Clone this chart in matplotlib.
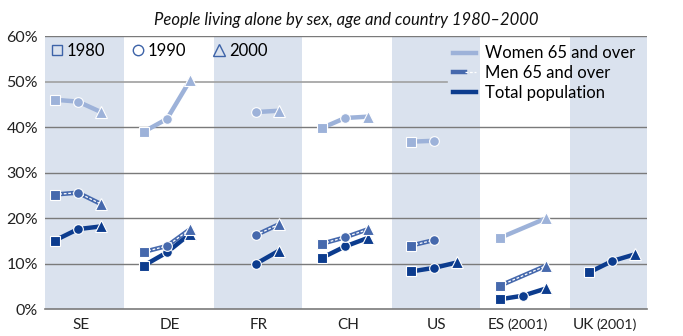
import numpy as np
import matplotlib
matplotlib.use('Agg')
import matplotlib.pyplot as plt
from matplotlib.lines import Line2D
from matplotlib.legend_handler import HandlerTuple

plt.rcParams['font.family'] = ['Lato', 'DejaVu Sans']

nan = np.nan
COUNTRIES = ['SE', 'DE', 'FR', 'CH', 'US', 'ES (2001)', 'UK (2001)']
YEARS = ['1980', '1990', '2000']

women_1980 = [46.0, 39.0, nan, 39.8, 36.8, 15.7, nan]
women_1990 = [45.6, 41.8, 43.3, 42.0, 37.0, nan, nan]
women_2000 = [43.3, 50.3, 43.6, 42.3, nan, 20.0, nan]

men_1980 = [25.2, 12.6, nan, 14.4, 14.0, 5.2, nan]
men_1990 = [25.6, 13.9, 16.3, 15.8, 15.2, nan, nan]
men_2000 = [23.1, 17.6, 18.7, 17.6, nan, 9.6, nan]

total_1980 = [15.1, 9.6, nan, 11.3, 8.3, 2.2, 8.1]
total_1990 = [17.6, 12.5, 10.0, 13.8, 9.1, 3.0, 10.6]
total_2000 = [18.2, 16.6, 12.9, 15.7, 10.3, 4.6, 12.1]

WOMEN_C = '#9db2d9'
MEN_C = '#4669ad'
TOTAL_C = '#0c3c8e'
BAND_C = '#dae2ee'
GRID_C = '#7a7a7a'
TEXT_C = '#222222'
MARKERS = ['s', 'o', '^']
MSIZE = [6.5, 7.0, 8.0]
OFFSETS = [-0.26, 0.0, 0.26]

fig = plt.figure(figsize=(6.83, 3.36), dpi=100)
ax = fig.add_axes([45 / 683, 1 - 309.3 / 336, 602 / 683, (309.3 - 36) / 336])
ax.set_xlim(-0.37, 6.39)
ax.set_ylim(0, 60)

# shaded country bands
for i in range(0, len(COUNTRIES), 2):
    ax.axvspan(i - 0.47, i + 0.52, color=BAND_C, lw=0, zorder=0)

# gridlines (50% stops short of the legend)
for v in [10, 20, 30, 40, 60]:
    ax.axhline(v, color=GRID_C, lw=1.0, zorder=1)
ax.axhline(50, xmax=0.668, color='#a0a0a0', lw=1.2, zorder=1)


def draw_series(vals, color, zo, men=False):
    for i in range(len(COUNTRIES)):
        xs, ys, ms = [], [], []
        for k in range(3):
            if not np.isnan(vals[k][i]):
                xs.append(i + OFFSETS[k])
                ys.append(vals[k][i])
                ms.append(k)
        if len(xs) > 1:
            ax.plot(xs, ys, color=color, lw=3.2, solid_capstyle='butt', zorder=zo)
            if men:
                ax.plot(xs, ys, color='white', lw=0.9, dashes=(2.2, 1.4), zorder=zo + 0.1)
        for x, y, k in zip(xs, ys, ms):
            ax.plot(x, y, marker=MARKERS[k], ms=MSIZE[k], color=color,
                    mec='white', mew=0.8, ls='none', zorder=zo + 0.2)


draw_series([women_1980, women_1990, women_2000], WOMEN_C, 3)
draw_series([total_1980, total_1990, total_2000], TOTAL_C, 4)
draw_series([men_1980, men_1990, men_2000], MEN_C, 5, men=True)

# country labels: main code normal size, census year a little smaller
ax.set_xticks(range(len(COUNTRIES)))
ax.set_xticklabels([])
for i, name in enumerate(COUNTRIES):
    parts = name.split(' ')
    if len(parts) == 1:
        ax.annotate(name, (i + 0.03, 0), xycoords=('data', 'axes fraction'),
                    xytext=(0, -6), textcoords='offset points', ha='center', va='top',
                    fontsize=11, color=TEXT_C)
    else:
        ax.annotate(parts[0], (i + 0.03, 0), xycoords=('data', 'axes fraction'),
                    xytext=(-15, -6), textcoords='offset points', ha='right', va='top',
                    fontsize=11, color=TEXT_C)
        ax.annotate(parts[1], (i + 0.03, 0), xycoords=('data', 'axes fraction'),
                    xytext=(-13.5, -6.6), textcoords='offset points', ha='left', va='top',
                    fontsize=10.3, color=TEXT_C)

ax.set_yticks(range(0, 61, 10))
ax.set_yticklabels([f'{v}%' for v in range(0, 61, 10)], fontsize=11.5, color=TEXT_C)
ax.tick_params(length=0, pad=5)
for side in ['left', 'right', 'top']:
    ax.spines[side].set_visible(False)
ax.spines['bottom'].set_color(GRID_C)
ax.spines['bottom'].set_linewidth(1.2)

ax.set_title('People living alone by sex, age and country 1980\u20132000',
             fontsize=12, style='italic', color='#111111', pad=8)

# year legend (hollow markers)
year_handles = [Line2D([], [], marker=MARKERS[k], ms=MSIZE[k] + 0.5, ls='none',
                       mfc='none', mec='#3d63a8', mew=1.0) for k in range(3)]
leg1 = ax.legend(year_handles, YEARS, loc='upper left',
                 bbox_to_anchor=((51 - 45) / 602, (309.3 - 43) / 273.3),
                 ncol=3, frameon=False, fontsize=12, handlelength=0.7,
                 handletextpad=0.25, columnspacing=1.6, borderaxespad=0, borderpad=0)
ax.add_artist(leg1)

# series legend
w_h = Line2D([], [], color=WOMEN_C, lw=3.2)
m_h = (Line2D([], [], color=MEN_C, lw=3.2),
       Line2D([], [], color='white', lw=0.9, dashes=(2.2, 1.4)))
t_h = Line2D([], [], color=TOTAL_C, lw=3.2)
leg2 = ax.legend([w_h, m_h, t_h], ['Women 65 and over', 'Men 65 and over', 'Total population'],
                 handler_map={tuple: HandlerTuple(ndivide=None)},
                 loc='upper left', bbox_to_anchor=((453 - 45) / 602, (309.3 - 45.5) / 273.3),
                 frameon=False, fontsize=12, handlelength=1.4, handletextpad=0.5,
                 labelspacing=0.22, borderaxespad=0, borderpad=0)

fig.savefig('out.png', dpi=100)
